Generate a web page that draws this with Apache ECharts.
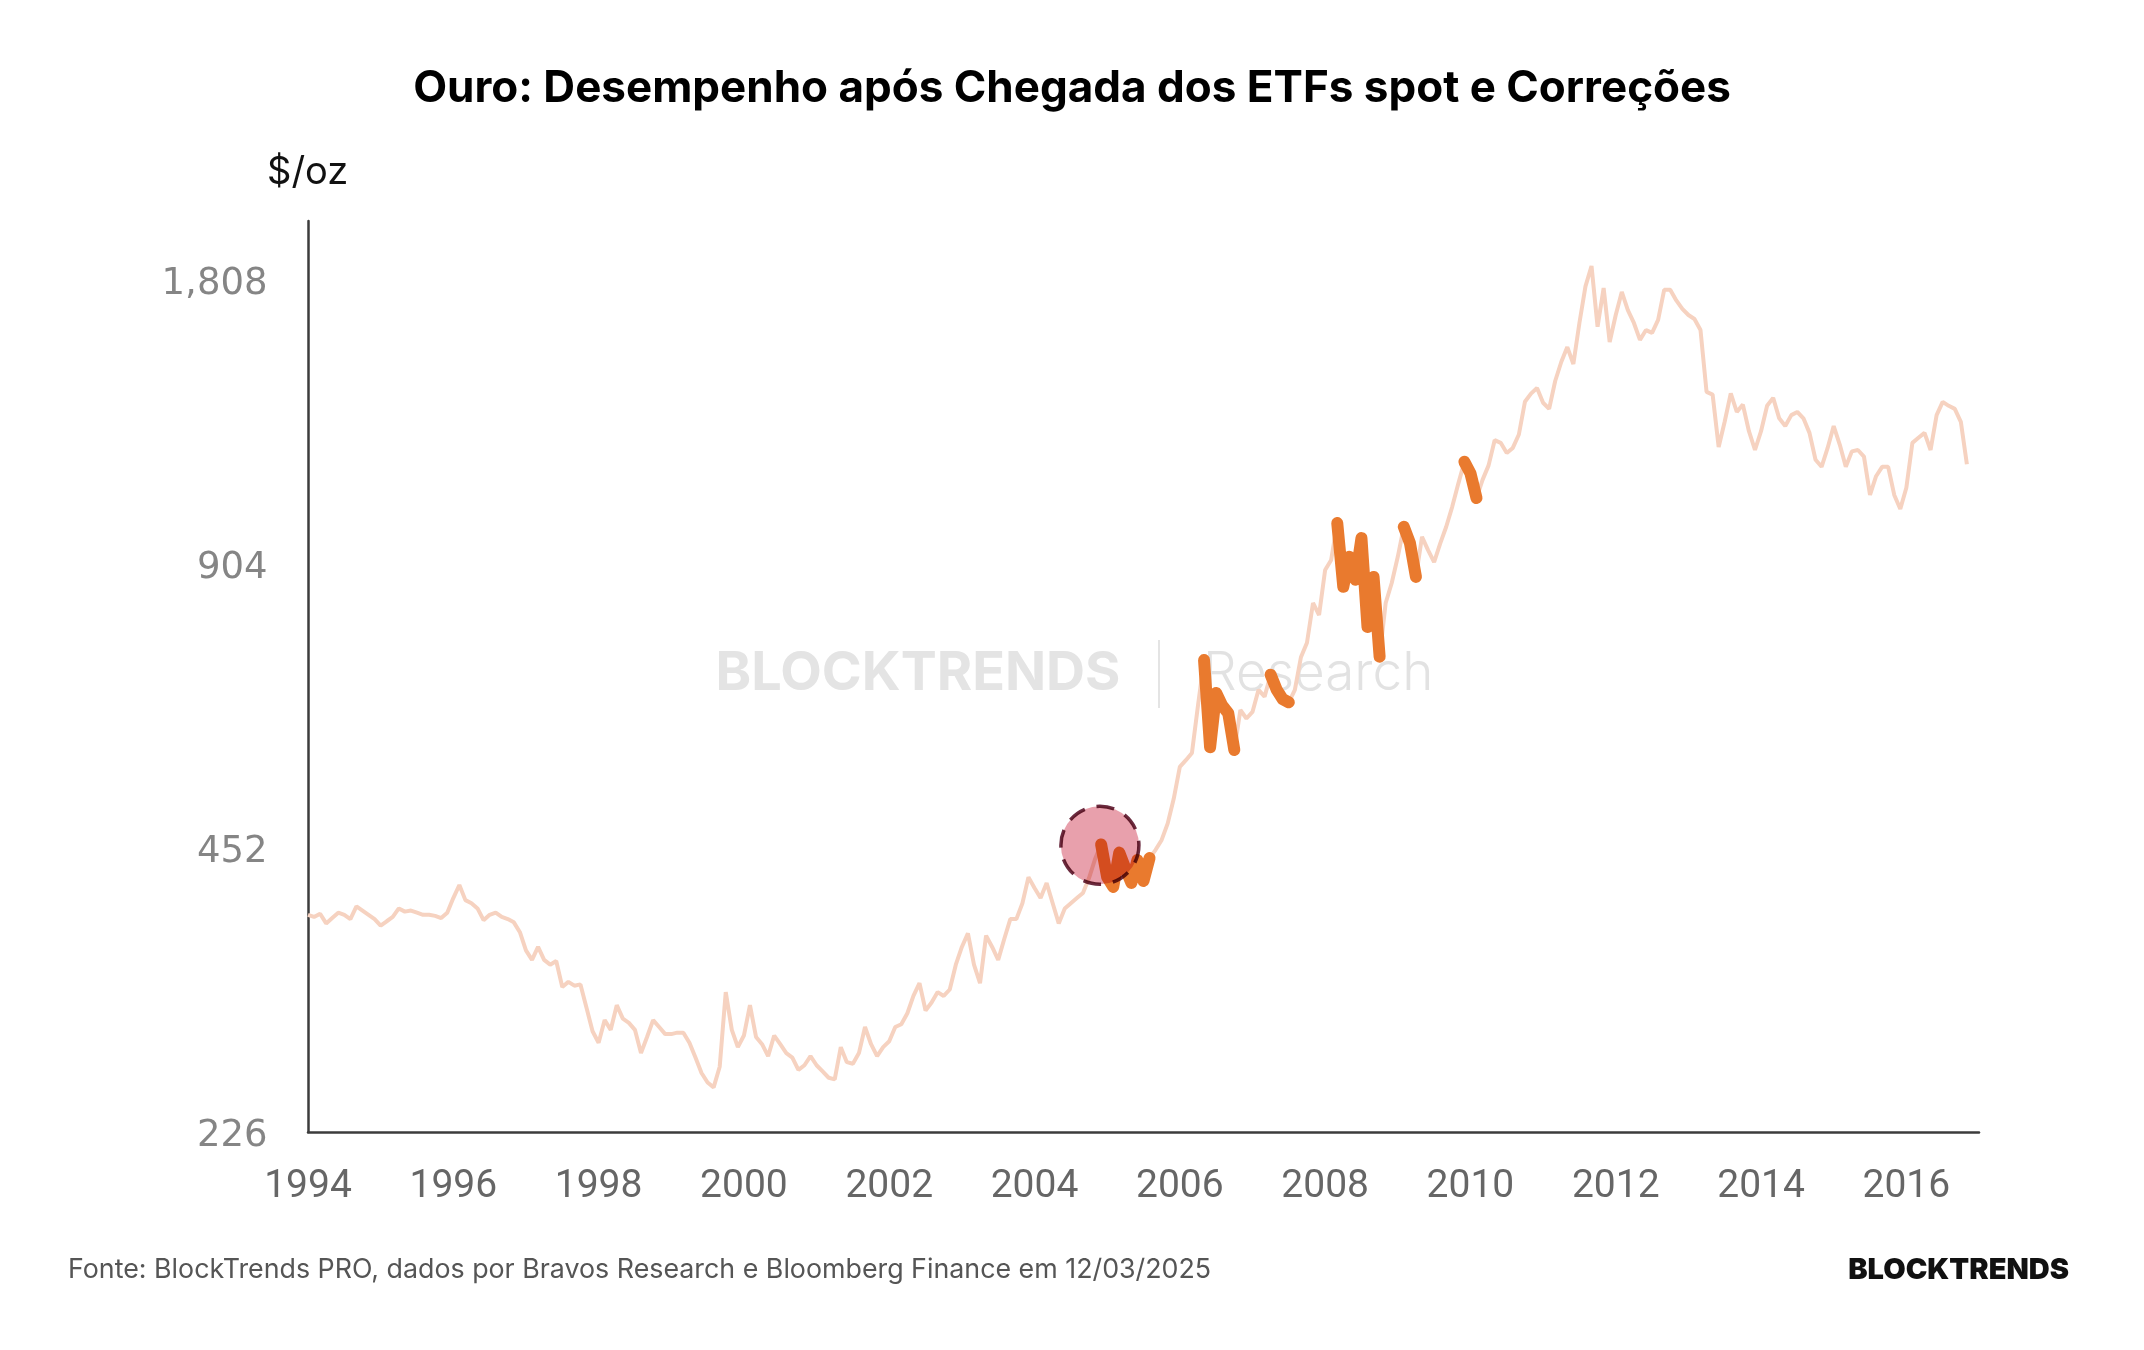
<!DOCTYPE html>
<html>
<head>
<meta charset="utf-8">
<title>Ouro: Desempenho após Chegada dos ETFs spot e Correções</title>
<script src="https://cdn.jsdelivr.net/npm/echarts@6/dist/echarts.min.js"></script>
<style>
html, body { margin: 0; padding: 0; background: #fff; }
#main { width: 2144px; height: 1350px; }
</style>
</head>
<body>
<div id="main"></div>
<script>
// ouro, preço mensal em $/oz, a partir de jan/1994
var startYear = 1994;
var goldPrices = [
    384, 382, 385, 376, 381, 386, 384, 380, 392, 388, 384, 380,   // 1994
    374, 378, 382, 390, 387, 388, 386, 384, 384, 383, 381, 386,   // 1995
    400, 413, 398, 395, 390, 379, 384, 386, 382, 380, 377, 368,   // 1996
    352, 344, 355, 344, 340, 343, 322, 326, 323, 324, 306, 289,   // 1997
    281, 297, 290, 308, 298, 295, 290, 274, 285, 297, 292, 287,   // 1998
    287, 288, 288, 281, 271, 261, 255, 252, 265, 318, 290, 278,   // 1999
    286, 308, 285, 280, 272, 286, 280, 274, 271, 263, 266, 272,   // 2000
    266, 262, 258, 257, 278, 268, 267, 274, 292, 280, 272, 278,   // 2001
    282, 292, 294, 302, 315, 325, 304, 310, 318, 315, 320, 340,   // 2002
    355, 367, 340, 325, 365, 355, 344, 362, 380, 380, 395, 421,   // 2003
    410, 400, 415, 395, 376, 390, 395, 400, 405, 420, 440, 456,   // 2004
    421, 411, 447, 430, 415, 439, 417, 441, 450, 461, 480, 510,   // 2005
    551, 560, 570, 640, 715, 578, 660, 640, 628, 574, 633, 620,   // 2006
    630, 665, 654, 690, 665, 650, 645, 665, 720, 746, 822, 798,   // 2007
    891, 913, 999, 855, 920, 870, 963, 775, 876, 721, 822, 863,   // 2008
    920, 990, 952, 876, 966, 935, 908, 950, 990, 1040, 1100, 1160, // 2009
    1128, 1062, 1110, 1150, 1223, 1215, 1185, 1200, 1240, 1343, 1370, 1389, // 2010
    1340, 1320, 1413, 1480, 1535, 1473, 1628, 1780, 1871, 1613, 1773, 1554, // 2011
    1660, 1756, 1680, 1628, 1562, 1600, 1589, 1640, 1765, 1765, 1720, 1685, // 2012
    1660, 1644, 1600, 1376, 1367, 1203, 1280, 1371, 1310, 1334, 1250, 1194, // 2013
    1250, 1330, 1356, 1290, 1266, 1300, 1310, 1290, 1245, 1166, 1146, 1200, // 2014
    1266, 1210, 1146, 1190, 1194, 1175, 1070, 1120, 1146, 1146, 1070, 1034, // 2015
    1089, 1215, 1230, 1245, 1194, 1300, 1343, 1330, 1320, 1279, 1153        // 2016
];

// correções destacadas (início, fim)
var corrections = [
    ['2004-12', '2005-08'],
    ['2006-05', '2006-10'],
    ['2007-04', '2007-07'],
    ['2008-03', '2008-10'],
    ['2009-02', '2009-04'],
    ['2009-12', '2010-02']
];

// chegada dos ETFs spot
var etfMarker = [2004.9, 455];

var yTicks = [226, 452, 904, 1808];
var xMin = 1994, xMax = 2017;

function monthIndex(s) {
    var p = s.split('-');
    return (parseInt(p[0], 10) - startYear) * 12 + parseInt(p[1], 10) - 1;
}
function inCorrection(i) {
    for (var k = 0; k < corrections.length; k++) {
        if (i >= monthIndex(corrections[k][0]) && i <= monthIndex(corrections[k][1])) return true;
    }
    return false;
}

var baseData = [], corrData = [];
for (var i = 0; i < goldPrices.length; i++) {
    var x = startYear + i / 12;
    baseData.push([x, goldPrices[i]]);
    corrData.push([x, inCorrection(i) ? goldPrices[i] : null]);
}

var chart = echarts.init(document.getElementById('main'));

var option = {
    animation: false,
    backgroundColor: '#ffffff',
    title: {
        text: 'Ouro: Desempenho após Chegada dos ETFs spot e Correções',
        left: 'center',
        top: 62,
        textStyle: {
            fontFamily: 'Inter',
            fontSize: 44,
            fontWeight: 'bold',
            color: '#000'
        }
    },
    grid: {
        left: 308,
        right: 165,
        top: 221,
        bottom: 218
    },
    xAxis: {
        type: 'value',
        min: xMin,
        max: xMax,
        interval: 2,
        axisLine: { lineStyle: { color: '#3c3c3c', width: 2.5 } },
        axisTick: { show: false },
        splitLine: { show: false },
        axisLabel: {
            margin: 36,
            showMaxLabel: false,
            color: '#666',
            fontSize: 39,
            fontFamily: 'Roboto',
            formatter: function (v) { return String(v); }
        }
    },
    yAxis: {
        type: 'log',
        logBase: 2,
        min: 226,
        max: 2088,
        axisLine: { show: true, lineStyle: { color: '#3c3c3c', width: 2.5 } },
        axisTick: { show: false },
        splitLine: { show: false },
        axisLabel: { show: false }
    },
    graphic: [
        {
            type: 'text', left: 267, top: 154, z: 0,
            style: { text: '$/oz', fontFamily: 'Inter', fontSize: 38, fill: '#111' }
        },
        {
            type: 'text', x: 918, y: 674, z: 0,
            style: {
                text: 'BLOCKTRENDS', fontFamily: 'Inter', fontWeight: 'bold', fontSize: 54,
                fill: '#e4e4e4', align: 'center', verticalAlign: 'middle'
            }
        },
        {
            type: 'rect', z: 0,
            shape: { x: 1158, y: 640, width: 2, height: 68 },
            style: { fill: '#e4e4e4' }
        },
        {
            type: 'text', x: 1203, y: 674, z: 0,
            style: {
                text: 'Research', fontFamily: 'Inter', fontWeight: 300, fontSize: 53,
                fill: '#e2e2e2', align: 'left', verticalAlign: 'middle'
            }
        },
        {
            type: 'text', x: 68, y: 1270,
            style: {
                text: 'Fonte: BlockTrends PRO, dados por Bravos Research e Bloomberg Finance em 12/03/2025',
                fontFamily: 'Inter', fontSize: 26.8, fill: '#555', align: 'left', verticalAlign: 'middle'
            }
        },
        {
            type: 'text', x: 2069, y: 1270,
            style: {
                text: 'BLOCKTRENDS', fontFamily: 'Inter', fontWeight: 900, fontSize: 29,
                fill: '#111', align: 'right', verticalAlign: 'middle'
            }
        }
    ],
    series: [
        {
            name: 'Ouro',
            type: 'line',
            data: baseData,
            showSymbol: false,
            z: 2,
            lineStyle: { color: '#f6d2c0', width: 4 }
        },
        {
            name: 'Correções',
            type: 'line',
            data: corrData,
            showSymbol: false,
            connectNulls: false,
            z: 3,
            lineStyle: { color: '#e97a2e', width: 12, cap: 'round', join: 'round' }
        },
        {
            name: 'ETFs spot',
            type: 'scatter',
            data: [etfMarker],
            symbolSize: 78,
            z: 4,
            blendMode: 'multiply',
            itemStyle: {
                color: '#e8a0ac',
                opacity: 1,
                borderColor: '#6b2b3f',
                borderWidth: 3.5,
                borderType: [18, 12]
            }
        },
        {
            // rótulos do eixo Y (escala log base 2)
            name: 'yLabels',
            type: 'scatter',
            silent: true,
            clip: false,
            symbolSize: 1,
            itemStyle: { color: 'rgba(0,0,0,0)' },
            data: yTicks.map(function (v) { return [xMin, v]; }),
            label: {
                show: true,
                position: 'left',
                distance: 40,
                offset: [0, 4],
                color: '#666',
                fontSize: 37,
                fontFamily: 'DejaVu Sans',
                formatter: function (p) { return p.value[1].toLocaleString('en-US'); }
            }
        }
    ]
};

chart.setOption(option);
</script>
</body>
</html>
